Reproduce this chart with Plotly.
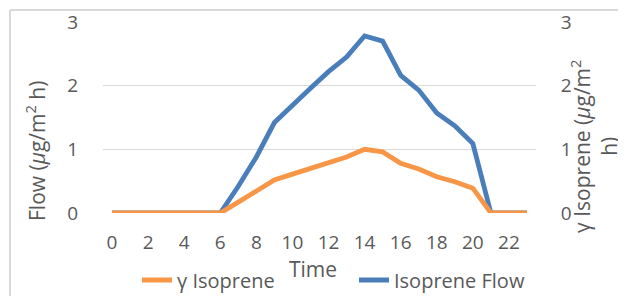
import plotly.graph_objects as go

hours = list(range(24))
tick_labels = [str(h) for h in range(0, 24, 2)]
isoprene_flow = [0, 0, 0, 0, 0, 0, 0, 0.42, 0.88, 1.42, 1.70, 1.96, 2.22, 2.45,
                 2.78, 2.70, 2.16, 1.93, 1.57, 1.37, 1.09, 0, 0, 0]
gamma_isoprene = [0, 0, 0, 0, 0, 0, 0, 0.17, 0.35, 0.52, 0.61, 0.70, 0.80, 0.88,
                  1.00, 0.96, 0.78, 0.69, 0.57, 0.49, 0.39, 0, 0, 0]

# page body has an 8px margin, so the figure is drawn 8px right/down
OFF = 8
W, H = 626 - OFF, 297 - OFF
L, R, T, B = 103, 536, 22, 213   # target plot area in window pixels
FONT = "Open Sans"
GRAY = "#595959"
FS_TICK = 19
FS_LEG = 20
FS_TITLE = 21

def px(x):
    return (x - L) / (R - L)

def py(y):
    return (B - y) / (B - T)

fig = go.Figure()
fig.add_trace(go.Scatter(x=hours, y=gamma_isoprene, name="γ Isoprene", mode="lines",
                         line=dict(color="#F79646", width=4.8), yaxis="y2", legend="legend"))
fig.add_trace(go.Scatter(x=hours, y=isoprene_flow, name="Isoprene Flow", mode="lines",
                         line=dict(color="#4A7EBB", width=4.8), yaxis="y", legend="legend2"))

leg_common = dict(orientation="h", yanchor="middle", xanchor="left",
                  font=dict(size=FS_LEG, color=GRAY), bgcolor="rgba(0,0,0,0)")

fig.update_layout(
    width=W, height=H,
    margin=dict(l=L - OFF, r=626 - R, t=T - OFF, b=297 - B, autoexpand=False),
    plot_bgcolor="white", paper_bgcolor="white",
    font=dict(family=FONT, size=FS_TICK, color=GRAY),
    showlegend=True,
    hovermode=False,
    legend=dict(x=px(137), y=py(280), **leg_common),
    legend2=dict(x=px(354), y=py(280), **leg_common),
    xaxis=dict(range=[-0.5, 23.5], tickmode="array", tickvals=list(range(0, 24, 2)),
               ticktext=tick_labels, showgrid=False, zeroline=False, showline=False,
               ticks="outside", ticklen=12, tickcolor="rgba(0,0,0,0)", automargin=False,
               tickfont=dict(size=FS_TICK, color=GRAY)),
    yaxis=dict(range=[0, 3], tickvals=[0, 1, 2, 3], showgrid=True, gridcolor="#D9D9D9",
               gridwidth=1, zeroline=False, showline=False, ticks="outside", ticklen=20,
               tickcolor="rgba(0,0,0,0)", tickfont=dict(size=FS_TICK, color=GRAY),
               automargin=False),
    yaxis2=dict(range=[0, 3], tickvals=[0, 1, 2, 3], overlaying="y", side="right",
                showgrid=False, zeroline=False, showline=False, ticks="outside", ticklen=20,
                tickcolor="rgba(0,0,0,0)", tickfont=dict(size=FS_TICK, color=GRAY),
                automargin=False),
    annotations=[
        dict(text="Flow (<i>μ</i>g/m<sup>2</sup> h)", xref="paper", yref="paper",
             x=px(35), y=py(151), textangle=-90, showarrow=False,
             font=dict(size=FS_TITLE, color=GRAY), xanchor="center", yanchor="middle"),
        dict(text="γ Isoprene (<i>μ</i>g/m<sup>2</sup><br>h)", xref="paper", yref="paper",
             x=px(594), y=py(147), textangle=-90, showarrow=False,
             font=dict(size=FS_TITLE, color=GRAY), xanchor="center", yanchor="middle"),
        dict(text="Time", xref="paper", yref="paper", x=px(313), y=py(269),
             showarrow=False, font=dict(size=FS_TITLE, color=GRAY),
             xanchor="center", yanchor="middle"),
    ],
    shapes=[
        dict(type="line", xref="paper", yref="paper", x0=px(10), x1=px(10),
             y0=py(10), y1=py(296), layer="above", line=dict(color="#D9D9D9", width=2)),
        dict(type="line", xref="paper", yref="paper", x0=px(10), x1=px(625),
             y0=py(10), y1=py(10), layer="above", line=dict(color="#D9D9D9", width=2)),
    ],
)

fig.write_html("out.html")
